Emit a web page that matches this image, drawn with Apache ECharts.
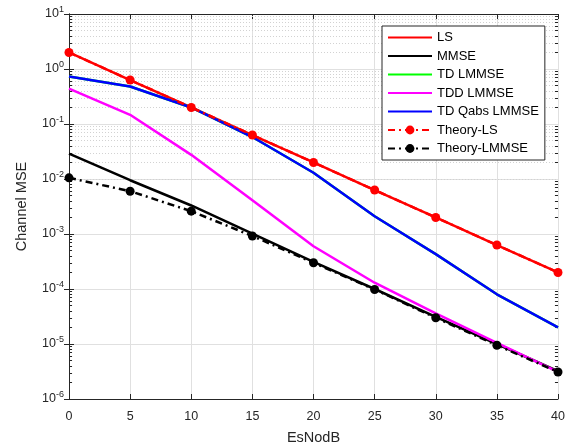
<!DOCTYPE html>
<html><head><meta charset="utf-8">
<script src="https://cdn.jsdelivr.net/npm/echarts@6/dist/echarts.min.js"></script>
<style>html,body{margin:0;padding:0;background:#fff}#c{width:571px;height:446px}</style>
</head><body><div id="c"></div>
<script>
const snr = [0, 5, 10, 15, 20, 25, 30, 35, 40];
const ls = [2.0, 0.63, 0.2, 0.063, 0.02, 0.0063, 0.002, 0.00063, 0.0002];
const mmse = [0.029, 0.0095, 0.0033, 0.00102, 0.00031, 0.0001, 3.1e-5, 1.0e-5, 3.2e-6];
const tdLmmse = [0.73, 0.48, 0.2, 0.058, 0.013, 0.0021, 4.3e-4, 8.0e-5, 2.0e-5];
const tddLmmse = [0.44, 0.147, 0.0275, 0.0041, 6.0e-4, 1.3e-4, 3.6e-5, 1.05e-5, 3.1e-6];
const tdQabs = [0.73, 0.48, 0.2, 0.058, 0.013, 0.0021, 4.3e-4, 8.0e-5, 2.0e-5];
const theoryLs = [2.0, 0.63, 0.2, 0.063, 0.02, 0.0063, 0.002, 0.00063, 0.0002];
const theoryLmmse = [0.0105, 0.006, 0.0026, 0.00092, 3.0e-4, 9.8e-5, 3.0e-5, 9.5e-6, 3.1e-6];
const xTicks = [0, 5, 10, 15, 20, 25, 30, 35, 40];
const yDecades = [-6, -5, -4, -3, -2, -1, 0, 1];

const FONT = 'Liberation Sans, Arial, Helvetica, sans-serif';
const TXT = '#262626';
const pairs = a => snr.map((x, i) => [x, a[i]]);

const minorVals = [];
for (let d = yDecades[0]; d < yDecades[yDecades.length - 1]; d++)
  for (let k = 2; k <= 9; k++) minorVals.push(k * Math.pow(10, d));

const xMin = xTicks[0], xMax = xTicks[xTicks.length - 1];
const yMin = Math.pow(10, yDecades[0]), yMax = Math.pow(10, yDecades[yDecades.length - 1]);

const minorGrid = minorVals.map(v => ({ yAxis: v }));
const minorTicks = [];
minorVals.forEach(v => {
  minorTicks.push([{ coord: [xMin, v] }, { coord: [xMin + 0.25, v] }]);
  minorTicks.push([{ coord: [xMax - 0.25, v] }, { coord: [xMax, v] }]);
});

const chart = echarts.init(document.getElementById('c'), null, { renderer: 'canvas' });

function lineSeries(name, data, color, opts) {
  return Object.assign({
    name, type: 'line', data: pairs(data),
    symbol: 'none', showSymbol: false,
    lineStyle: { color, width: 2.5 },
    itemStyle: { color },
    z: 3, animation: false, silent: true
  }, opts || {});
}

const yAxisBase = {
  type: 'log', logBase: 10, min: yMin, max: yMax,
  axisLine: { show: true, lineStyle: { color: TXT, width: 1 } },
  axisTick: { show: true, inside: true, length: 5, lineStyle: { color: TXT } },
  minorTick: { show: false }
};
const xAxisBase = {
  type: 'value', min: xMin, max: xMax, interval: 5,
  axisLine: { show: true, onZero: false, lineStyle: { color: TXT, width: 1 } },
  axisTick: { show: true, inside: true, length: 5, lineStyle: { color: TXT } }
};

const noMark = { opacity: 0 };

chart.setOption({
  backgroundColor: '#fff',
  animation: false,
  grid: { left: 69, right: 13, top: 14, bottom: 47, containLabel: false, outerBoundsMode: 'none' },
  legend: {
    orient: 'vertical', left: 382, top: 26, z: 10,
    data: [
      { name: 'LS', itemStyle: noMark },
      { name: 'MMSE', itemStyle: noMark },
      { name: 'TD LMMSE', itemStyle: noMark },
      { name: 'TDD LMMSE', itemStyle: noMark },
      { name: 'TD Qabs LMMSE', itemStyle: noMark },
      'Theory-LS',
      'Theory-LMMSE'
    ],
    itemWidth: 44, itemHeight: 11, itemGap: 5.5,
    padding: [5, 6, 5, 5],
    backgroundColor: '#fff', borderColor: TXT, borderWidth: 1,
    textStyle: { fontFamily: FONT, fontSize: 13, color: '#000' },
    selectedMode: false
  },
  xAxis: [
    Object.assign({}, xAxisBase, {
      position: 'bottom',
      name: 'EsNodB', nameLocation: 'middle', nameGap: 31,
      nameTextStyle: { fontFamily: FONT, fontSize: 14.5, color: TXT },
      axisLabel: { fontFamily: FONT, fontSize: 12.5, color: TXT, margin: 11 },
      splitLine: { show: true, lineStyle: { color: '#e0e0e0', width: 1 } }
    }),
    Object.assign({}, xAxisBase, {
      position: 'top', axisLabel: { show: false }, splitLine: { show: false }
    })
  ],
  yAxis: [
    Object.assign({}, yAxisBase, {
      position: 'left',
      name: 'Channel MSE', nameLocation: 'middle', nameGap: 40,
      nameTextStyle: { fontFamily: FONT, fontSize: 14.5, color: TXT },
      axisLabel: {
        margin: 5,
        formatter: v => '{b|10}{s|' + Math.round(Math.log10(v)) + '}',
        rich: {
          b: { fontFamily: FONT, fontSize: 12.5, color: TXT },
          s: { fontFamily: FONT, fontSize: 9, color: TXT, padding: [0, 0, 9, 0] }
        }
      },
      splitLine: { show: true, lineStyle: { color: '#e0e0e0', width: 1 } }
    }),
    Object.assign({}, yAxisBase, {
      position: 'right', axisLabel: { show: false }, splitLine: { show: false }
    })
  ],
  series: [
    {
      name: 'minor', type: 'line', data: [], z: 1, silent: true, animation: false,
      markLine: {
        z: 1, silent: true, animation: false, symbol: 'none', label: { show: false },
        lineStyle: { color: '#d2d2d2', width: 1, type: [1, 2] },
        data: minorGrid
      }
    },
    {
      name: 'minorTicks', type: 'line', data: [], z: 1, silent: true, animation: false,
      markLine: {
        z: 1, silent: true, animation: false, symbol: 'none', label: { show: false },
        lineStyle: { color: TXT, width: 1, type: 'solid' },
        data: minorTicks
      }
    },
    lineSeries('LS', ls, '#ff0000'),
    lineSeries('MMSE', mmse, '#000000'),
    lineSeries('TD LMMSE', tdLmmse, '#00ff00'),
    lineSeries('TDD LMMSE', tddLmmse, '#ff00ff'),
    lineSeries('TD Qabs LMMSE', tdQabs, '#0000ff'),
    lineSeries('Theory-LS', theoryLs, '#ff0000', {
      symbol: 'circle', showSymbol: true, symbolSize: 9,
      lineStyle: { color: '#ff0000', width: 2.5, type: [7, 4, 2, 4] }, z: 4
    }),
    lineSeries('Theory-LMMSE', theoryLmmse, '#000000', {
      symbol: 'circle', showSymbol: true, symbolSize: 9,
      lineStyle: { color: '#000000', width: 2.5, type: [7, 4, 2, 4] }, z: 4
    })
  ]
});
</script>
</body></html>
